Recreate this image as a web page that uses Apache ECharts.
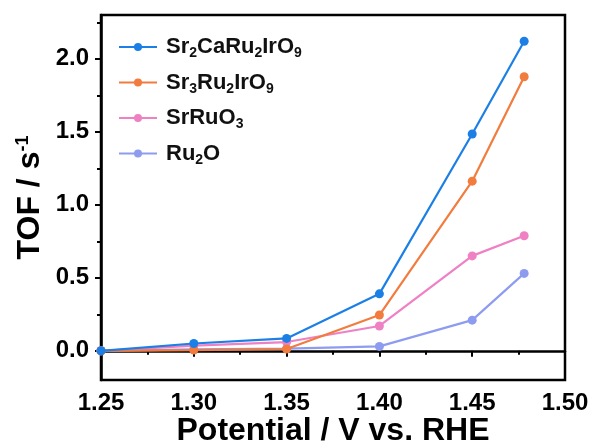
<!DOCTYPE html>
<html><head><meta charset="utf-8">
<script src="https://cdn.jsdelivr.net/npm/echarts@6/dist/echarts.min.js"></script>
<style>html,body{margin:0;padding:0;background:#fff}#c{width:593px;height:448px}</style>
</head><body><div id="c"></div>
<script>
const potentials = [1.25, 1.30, 1.35, 1.40, 1.45, 1.478];
const seriesNames = ['Sr2CaRu2IrO9', 'Sr3Ru2IrO9', 'SrRuO3', 'Ru2O'];
const legendLabels = ['Sr{s|2}CaRu{s|2}IrO{s|9}', 'Sr{s|3}Ru{s|2}IrO{s|9}', 'SrRuO{s|3}', 'Ru{s|2}O'];
const xTitle = 'Potential / V vs. RHE';
const tofSr2CaRu2IrO9 = [0, 0.05, 0.085, 0.39, 1.485, 2.12];
const tofSr3Ru2IrO9 = [0, 0.005, 0.012, 0.245, 1.162, 1.877];
const tofSrRuO3 = [0, 0.035, 0.06, 0.17, 0.65, 0.788];
const tofRu2O = [0, 0.01, 0.015, 0.03, 0.21, 0.53];
const yMajorTicks = [0, 0.5, 1.0, 1.5, 2.0];
const yMinorTicks = [0.25, 0.75, 1.25, 1.75, 2.25];
const colors = ['#1C7FE6', '#F27C3E', '#EF80C4', '#8E9CF0'];
const allData = [tofSr2CaRu2IrO9, tofSr3Ru2IrO9, tofSrRuO3, tofRu2O];

const chart = echarts.init(document.getElementById('c'));
const font = 'Arial, "Liberation Sans", sans-serif';
const yCommon = {type: 'value', min: -0.2, max: 2.3, position: 'left', splitLine: {show: false}};
chart.setOption({
  animation: false,
  grid: {left: 101, right: 28, top: 15, bottom: 68, show: true, borderColor: '#000', borderWidth: 2.5,
    containLabel: false, outerBoundsMode: 'none'},
  graphic: [{
    type: 'text', x: 333, y: 431, z: 100,
    style: {text: xTitle, align: 'center', verticalAlign: 'middle',
      font: 'bold 32px Arial, "Liberation Sans", sans-serif', fill: '#000'}
  }],
  legend: {
    left: 113, top: 31, orient: 'vertical', itemGap: 11,
    itemWidth: 38, itemHeight: 10,
    data: seriesNames,
    formatter: function (n) { return legendLabels[seriesNames.indexOf(n)]; },
    textStyle: {fontFamily: font, fontSize: 22, fontWeight: 'bold', color: '#111', padding: [0, 0, 0, 4],
      rich: {s: {fontFamily: font, fontSize: 14, fontWeight: 'bold', verticalAlign: 'bottom', padding: [13, 0, 0, 0], color: '#111'}}}
  },
  xAxis: {
    type: 'value', min: 1.25, max: 1.50, interval: 0.05,
    axisLine: {show: true, lineStyle: {color: '#000', width: 2.5}},
    axisTick: {show: true, inside: false, length: 6, lineStyle: {width: 2}},
    minorTick: {show: true, splitNumber: 2, length: 4, lineStyle: {color: '#000', width: 2}},
    splitLine: {show: false},
    axisLabel: {fontFamily: font, fontSize: 24, fontWeight: 'bold', color: '#000', margin: 11,
      formatter: function (v) { return v.toFixed(2); }}
  },
  yAxis: [
    Object.assign({}, yCommon, {
      name: 'TOF / s{p|-1}', nameLocation: 'middle', nameGap: 54, nameMoveOverlap: false,
      nameTextStyle: {fontFamily: font, fontSize: 32, fontWeight: 'bold', color: '#000',
        rich: {p: {fontFamily: font, fontSize: 18, fontWeight: 'bold', verticalAlign: 'top', padding: [0, 0, 15, 0], color: '#000'}}},
      axisLine: {show: true, lineStyle: {color: '#000', width: 2.5}},
      axisTick: {show: true, length: 6, lineStyle: {width: 2}, customValues: yMajorTicks},
      axisLabel: {fontFamily: font, fontSize: 24, fontWeight: 'bold', color: '#000', margin: 12,
        customValues: yMajorTicks, formatter: function (v) { return v.toFixed(1); }}
    }),
    Object.assign({}, yCommon, {
      axisLine: {show: false},
      axisTick: {show: true, length: 4, lineStyle: {width: 2, color: '#000'}, customValues: yMinorTicks},
      axisLabel: {show: false}
    })
  ],
  series: seriesNames.map((n, i) => ({
    name: n, type: 'line', z: 10 - i, yAxisIndex: 0,
    data: potentials.map((p, j) => [p, allData[i][j]]),
    symbol: 'circle', symbolSize: 9,
    lineStyle: {color: colors[i], width: 2.2},
    itemStyle: {color: colors[i]}
  }))
});
</script></body></html>
